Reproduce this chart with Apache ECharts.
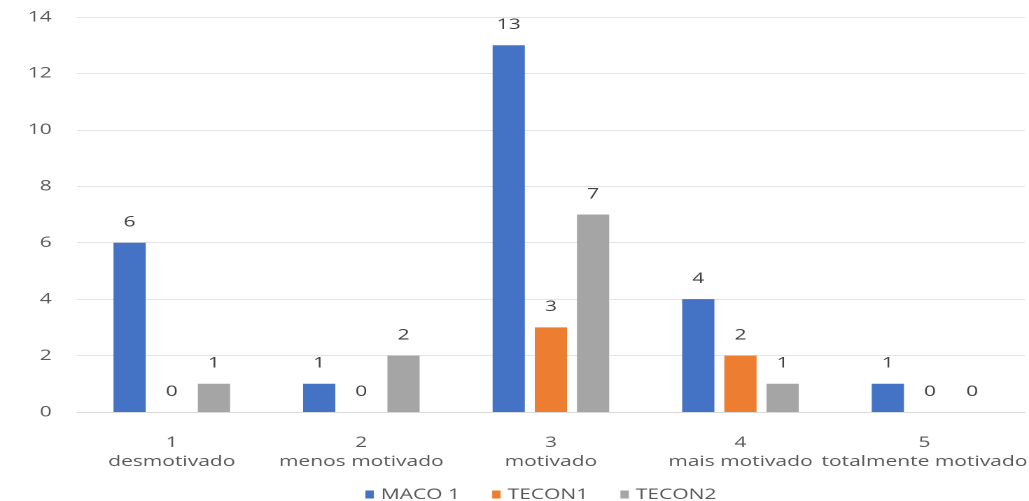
<!DOCTYPE html>
<html>
<head>
<meta charset="utf-8">
<script src="https://cdn.jsdelivr.net/npm/echarts@6/dist/echarts.min.js"></script>
<style>
  html, body { margin: 0; padding: 0; background: #ffffff; overflow: hidden; }
  /* The chart is laid out narrower and then widened, so the text takes on the
     same wide, stretched look as the rest of the drawing. */
  #chart {
    width: 735px;
    height: 501px;
    transform: scaleX(1.4);
    transform-origin: 0 0;
  }
</style>
</head>
<body>
<div id="chart"></div>
<script>
// Motivation levels (scale 1–5) and counts per group
const categories = ['1\ndesmotivado', '2\nmenos motivado', '3\nmotivado', '4\nmais motivado', '5\ntotalmente motivado'];
const maco1 = [6, 1, 13, 4, 1];
const tecon1 = [0, 0, 3, 2, 0];
const tecon2 = [1, 2, 7, 1, 0];
const seriesNames = ['MACO 1', 'TECON1', 'TECON2'];
const yTicks = { min: 0, max: 14, interval: 2 };

const colors = ['#4472C4', '#ED7D31', '#A5A5A5'];
const fontFamily = '"Open Sans", "Liberation Sans", sans-serif';

const chart = echarts.init(document.getElementById('chart'), null, { devicePixelRatio: 2 });

// The last category label is nudged left so it stays inside the chart edge.
const categoryItems = categories.map(function (c, i) {
  return i === categories.length - 1
    ? { value: c, textStyle: { padding: [0, 8, 0, 0] } }
    : c;
});

function barSeries(name, data, color) {
  return {
    name: name,
    type: 'bar',
    data: data,
    barWidth: 23,
    barGap: '31%',
    itemStyle: { color: color },
    label: {
      show: true,
      position: 'top',
      distance: 13,
      color: '#404040',
      fontSize: 15,
      fontFamily: fontFamily
    }
  };
}

chart.setOption({
  animation: false,
  backgroundColor: '#ffffff',
  grid: { left: 55, right: 3, top: 17, bottom: 89, outerBoundsMode: 'none', containLabel: false },
  legend: {
    top: 482,
    left: 256,
    itemWidth: 6,
    itemHeight: 8,
    itemGap: 23,
    icon: 'rect',
    textStyle: { color: '#595959', fontSize: 15, fontFamily: fontFamily },
    data: seriesNames
  },
  xAxis: {
    type: 'category',
    data: categoryItems,
    axisLine: { show: true, lineStyle: { color: '#d9d9d9', width: 1 } },
    axisTick: { show: false },
    axisLabel: {
      color: '#595959',
      fontSize: 15,
      fontFamily: fontFamily,
      lineHeight: 19,
      margin: 21,
      interval: 0
    }
  },
  yAxis: {
    type: 'value',
    min: yTicks.min,
    max: yTicks.max,
    interval: yTicks.interval,
    axisLine: { show: false },
    axisTick: { show: false },
    splitLine: { lineStyle: { color: '#e3e3e3', width: 1 } },
    axisLabel: {
      color: '#595959',
      fontSize: 15,
      fontFamily: fontFamily,
      margin: 18
    }
  },
  series: [
    barSeries(seriesNames[0], maco1, colors[0]),
    barSeries(seriesNames[1], tecon1, colors[1]),
    barSeries(seriesNames[2], tecon2, colors[2])
  ]
});
</script>
</body>
</html>
